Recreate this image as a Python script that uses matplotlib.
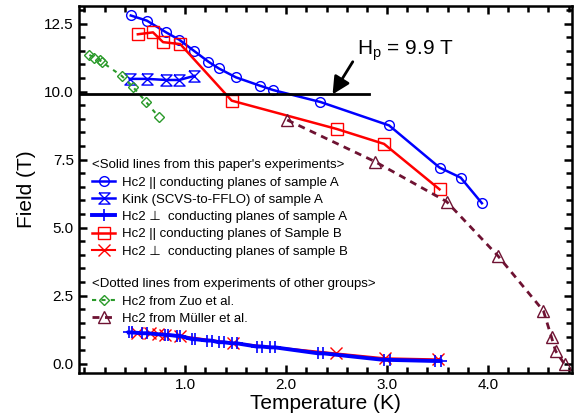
import numpy as np
import matplotlib
matplotlib.use('Agg')
import matplotlib.pyplot as plt
from matplotlib.ticker import MultipleLocator, FormatStrFormatter

plt.rcParams['font.family'] = ['Liberation Sans', 'DejaVu Sans']

# Hc2 || conducting planes, sample A
a_par_T = [0.46, 0.62, 0.81, 0.94, 1.09, 1.23, 1.33, 1.50, 1.74, 1.87, 2.34, 3.02, 3.52, 3.73, 3.94]
a_par_H = [12.80, 12.61, 12.18, 11.91, 11.49, 11.10, 10.86, 10.53, 10.22, 10.06, 9.62, 8.76, 7.21, 6.84, 5.90]

# kink (SCVS-to-FFLO), sample A
kink_T = [0.45, 0.62, 0.81, 0.94, 1.09]
kink_H = [10.47, 10.47, 10.43, 10.43, 10.58]

# Hc2 perp conducting planes, sample A
a_perp_T = [0.44, 0.47, 0.57, 0.62, 0.80, 0.83, 0.92, 0.95, 1.07, 1.10, 1.22, 1.26, 1.33, 1.38,
            1.46, 1.51, 1.71, 1.76, 1.84, 1.89, 2.32, 2.37, 2.97, 3.03, 3.48, 3.53]
a_perp_H = [1.15, 1.15, 1.12, 1.12, 1.06, 1.06, 1.02, 1.02, 0.90, 0.90, 0.85, 0.85, 0.79, 0.79,
            0.75, 0.75, 0.63, 0.63, 0.60, 0.60, 0.38, 0.38, 0.14, 0.14, 0.10, 0.10]

# Hc2 || conducting planes, sample B
b_par_T = [0.53, 0.68, 0.78, 0.95, 1.46, 2.50, 2.97, 3.52]
b_par_H = [12.11, 12.18, 11.82, 11.75, 9.67, 8.63, 8.08, 6.41]

# Hc2 perp conducting planes, sample B
b_perp_T = [0.52, 0.65, 0.73, 0.80, 0.95, 1.47, 2.49, 2.98, 3.50]
b_perp_H = [1.12, 1.12, 1.08, 1.06, 1.02, 0.76, 0.38, 0.20, 0.16]

# Zuo et al.
zuo_T = [0.05, 0.10, 0.15, 0.17, 0.37, 0.48, 0.61, 0.735]
zuo_H = [11.35, 11.25, 11.17, 11.10, 10.58, 10.18, 9.63, 9.08]

# Muller et al.
mul_T = [2.01, 2.88, 3.59, 4.10, 4.55, 4.63, 4.67, 4.76]
mul_H = [8.96, 7.43, 5.96, 3.96, 1.94, 0.97, 0.47, -0.02]

Hp = 9.9

blue = '#0000ff'
red = '#ff0000'
green = '#2a9a2a'
maroon = '#6e1232'
hourglass = [(-1, 1), (1, 1), (-1, -1), (1, -1), (-1, 1)]

fig = plt.figure(figsize=(5.74, 4.18), dpi=100)
ax = fig.add_axes([0.1382, 0.1084, 0.8578, 0.8773])

# paper's data
l1, = ax.plot(a_par_T, a_par_H, '-o', color=blue, lw=1.8, ms=7, mfc='none', mew=1,
              label='Hc2 || conducting planes of sample A')
l2, = ax.plot(kink_T, kink_H, '-', marker=hourglass, color=blue, lw=1.8, ms=8, mfc='none', mew=1,
              label='Kink (SCVS-to-FFLO) of sample A')
l5, = ax.plot(b_perp_T, b_perp_H, '-x', color=red, lw=1.5, ms=8, mew=1,
              label='Hc2 \u22a5  conducting planes of sample B')
l3, = ax.plot(a_perp_T, a_perp_H, '-+', color=blue, lw=2.8, ms=8, mew=1.2,
              label='Hc2 \u22a5  conducting planes of sample A')
l4, = ax.plot(b_par_T, b_par_H, '-s', color=red, lw=1.8, ms=8, mfc='none', mew=1,
              label='Hc2 || conducting planes of Sample B')

# other groups
l6, = ax.plot(zuo_T, zuo_H, '--D', color=green, lw=1.5, ms=5, mfc='none', mew=1, dashes=(2, 2.5),
              label='Hc2 from Zuo et al.')
l7, = ax.plot(mul_T, mul_H, '--^', color=maroon, lw=2, ms=8, mfc='none', mew=1, dashes=(2.5, 2),
              label='Hc2 from M\u00fcller et al.')

# Pauli limit line and annotation
ax.plot([-0.05, 2.82], [Hp, Hp], color='black', lw=2)
ax.annotate('', xy=(2.46, Hp), xytext=(2.66, 11.1),
            arrowprops=dict(arrowstyle='-|>', color='black', lw=2, mutation_scale=26,
                            shrinkA=0, shrinkB=0))
ax.text(2.70, 11.50, r'H$_\mathregular{p}$ = 9.9 T', fontsize=15, va='center', ha='left')

ax.set_xlim(-0.05, 4.83)
ax.set_ylim(-0.33, 13.15)
ax.xaxis.set_major_locator(MultipleLocator(1.0))
ax.xaxis.set_minor_locator(MultipleLocator(0.2))
ax.yaxis.set_major_locator(MultipleLocator(2.5))
ax.yaxis.set_minor_locator(MultipleLocator(0.5))
ax.xaxis.set_major_formatter(FormatStrFormatter('%.1f'))
ax.yaxis.set_major_formatter(FormatStrFormatter('%.1f'))
ax.set_xticks([1.0, 2.0, 3.0, 4.0])
ax.tick_params(which='both', direction='in', top=True, right=True, width=1.8, labelsize=11)
ax.tick_params(which='major', length=6, pad=4)
ax.tick_params(which='minor', length=4)
for s in ax.spines.values():
    s.set_linewidth(1.8)

ax.set_xlabel('Temperature (K)', fontsize=15, labelpad=1)
ax.set_ylabel('Field (T)', fontsize=15, labelpad=6)

leg1 = ax.legend(handles=[l1, l2, l3, l4, l5], loc='upper left', bbox_to_anchor=(0.025, 0.582),
                 title="<Solid lines from this paper's experiments>", title_fontsize=9.5,
                 fontsize=9.5, frameon=False, borderpad=0, borderaxespad=0, numpoints=1,
                 handlelength=1.8, handletextpad=0.5, labelspacing=0.38, alignment='left')
ax.add_artist(leg1)
ax.legend(handles=[l6, l7], loc='upper left', bbox_to_anchor=(0.025, 0.257),
          title='<Dotted lines from experiments of other groups>', title_fontsize=9.5,
          fontsize=9.5, frameon=False, borderpad=0, borderaxespad=0, numpoints=1,
          handlelength=1.8, handletextpad=0.5, labelspacing=0.38, alignment='left')

fig.savefig('out.png', dpi=100)
